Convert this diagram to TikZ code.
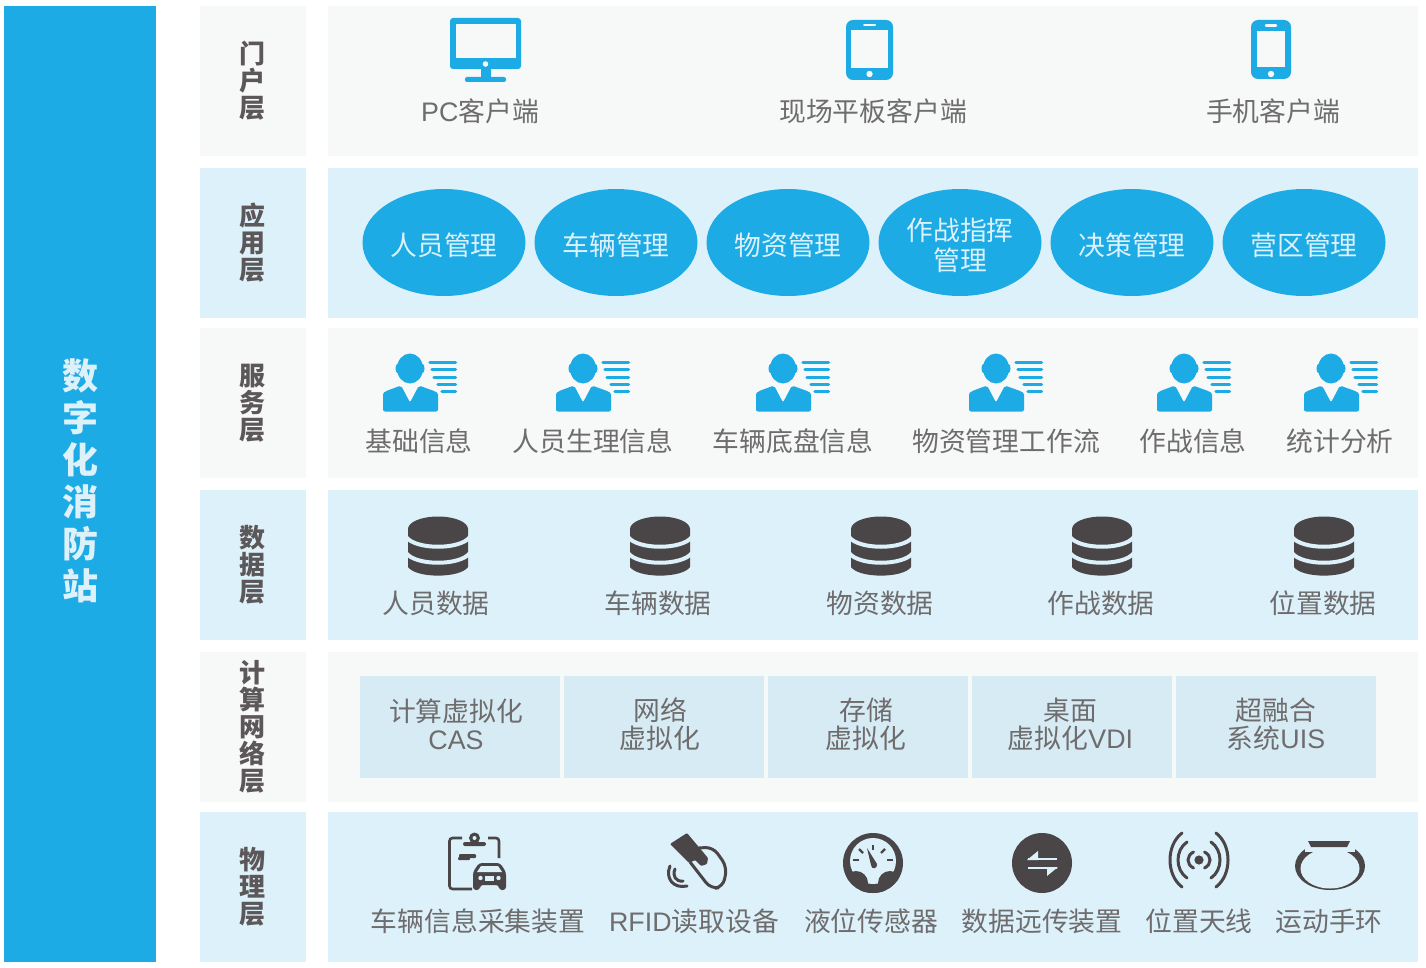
\documentclass[tikz,border=0pt]{standalone}
\usepackage{fontspec}
\setmainfont{Noto Sans CJK SC}
\newfontfamily\lat{Liberation Sans}
\usetikzlibrary{shapes.geometric}
\definecolor{sky}{HTML}{1CABE4}
\definecolor{pale}{HTML}{DDF1FB}
\definecolor{mist}{HTML}{F7F8F8}
\definecolor{cell}{HTML}{D7EBF5}
\definecolor{ink}{HTML}{4A4647}
\definecolor{txt}{HTML}{6E6C6C}
\tikzset{
  band/.style={draw=none,inner sep=0pt,minimum height=150pt,anchor=north west},
  tagbox/.style={band,minimum width=106pt},
  taglbl/.style={inner sep=0pt,font=\fontsize{26}{27}\selectfont\bfseries,text=ink!90,align=center},
  mainbox/.style={band,minimum width=1090pt},
  lbl/.style={inner sep=0pt,text=txt,font=\fontsize{26.8}{28}\selectfont,align=center},
  oval/.style={ellipse,fill=sky,minimum width=163pt,minimum height=107pt,inner sep=0pt},
  ovallbl/.style={inner sep=0pt,text=pale,font=\fontsize{26.8}{30}\selectfont,align=center},
  cellbox/.style={fill=cell,minimum width=200pt,minimum height=102pt,inner sep=0pt,anchor=north west},
  person/.pic={
    \fill[sky] (0,0) ellipse [x radius=13pt,y radius=15pt];
    \fill[sky] (-12.5,0) ellipse [x radius=2pt,y radius=4.5pt];
    \fill[sky] (12.5,0) ellipse [x radius=2pt,y radius=4.5pt];
    \fill[sky,rounded corners=2pt] (-27,43) -- (-27,28) .. controls (-27,23) and (-22,22) .. (-9,17) -- (0,34) -- (9,17) .. controls (22,22) and (28,23) .. (28,28) -- (28,43) -- cycle;
    \foreach \a/\b in {-6/20,1/22,9/24,16/28,23/32}{
      \draw[sky,line width=3.5pt,line cap=round] (\b,\a) -- (45.5,\a);
    }
  },
  dbase/.pic={
    \fill[ink] (-30,13) -- (-30,51) .. controls (-22,62.5) and (22,62.5) .. (30,51) -- (30,13) -- cycle;
    \fill[ink] (0,13) ellipse [x radius=30pt,y radius=12.5pt];
    \draw[pale,line width=4pt] (-32,21) .. controls (-22,34) and (22,34) .. (32,21);
    \draw[pale,line width=4pt] (-32,37) .. controls (-22,50) and (22,50) .. (32,37);
  },
}
\begin{document}
\begin{tikzpicture}[x=1pt,y=-1pt]
\useasboundingbox (0,0) rectangle (1426,968);
\fill[white] (0,0) rectangle (1426,968);
\node[fill=sky,minimum width=152pt,minimum height=956pt,inner sep=0pt,anchor=north west] (side) at (4,6) {};
\node[inner sep=0pt,text=pale,align=center,font=\fontsize{36}{42}\selectfont\bfseries] (sidelbl) at (80,481) {数\\字\\化\\消\\防\\站};

\node[tagbox,fill=mist] (t1) at (200,6) {};
\node[tagbox,fill=pale] (t2) at (200,168) {};
\node[tagbox,fill=mist] (t3) at (200,328) {};
\node[tagbox,fill=pale] (t4) at (200,490) {};
\node[tagbox,fill=mist] (t5) at (200,652) {};
\node[tagbox,fill=pale] (t6) at (200,812) {};
\node[taglbl] (tl1) at (252,81) {门\\户\\层};
\node[taglbl] (tl2) at (252,243) {应\\用\\层};
\node[taglbl] (tl3) at (252,403) {服\\务\\层};
\node[taglbl] (tl4) at (252,565) {数\\据\\层};
\node[taglbl] (tl5) at (252,727) {计\\算\\网\\络\\层};
\node[taglbl] (tl6) at (252,887) {物\\理\\层};

\node[mainbox,fill=mist] (m1) at (328,6) {};
\node[mainbox,fill=pale] (m2) at (328,168) {};
\node[mainbox,fill=mist] (m3) at (328,328) {};
\node[mainbox,fill=pale] (m4) at (328,490) {};
\node[mainbox,fill=mist] (m5) at (328,652) {};
\node[mainbox,fill=pale] (m6) at (328,812) {};

% portal icons
\fill[sky,rounded corners=3pt] (450,18) rectangle (521,69);
\fill[mist] (456,24) rectangle (516,58);
\fill[mist] (485.5,64) circle [radius=2.8pt];
\fill[sky] (481,69) rectangle (491,79);
\fill[sky,rounded corners=2pt] (465,77) rectangle (506,82);

\fill[sky,rounded corners=7pt] (846,20) rectangle (893,80);
\fill[mist] (851,30) rectangle (888,68);
\fill[mist] (869.5,74) circle [radius=3.2pt];
\draw[mist,line width=2pt,line cap=round] (864,25) -- (875,25);

\fill[sky,rounded corners=7pt] (1251,20) rectangle (1291,79);
\fill[mist] (1257,31) rectangle (1285,67);
\fill[mist] (1271,74) circle [radius=3.2pt];
\draw[mist,line width=2.5pt,line cap=round] (1266,25.5) -- (1276,25.5);

\node[lbl] (p1) at (480,111) {{\lat PC}客户端};
\node[lbl] (p2) at (873,111) {现场平板客户端};
\node[lbl] (p3) at (1273,111) {手机客户端};

% application layer
\node[oval] (a1) at (444,242.5) {};
\node[oval] (a2) at (616,242.5) {};
\node[oval] (a3) at (788,242.5) {};
\node[oval] (a4) at (960,242.5) {};
\node[oval] (a5) at (1132,242.5) {};
\node[oval] (a6) at (1304,242.5) {};
\node[ovallbl] (al1) at (444,245.5) {人员管理};
\node[ovallbl] (al2) at (616,245.5) {车辆管理};
\node[ovallbl] (al3) at (788,245.5) {物资管理};
\node[ovallbl] (al4) at (960,245) {作战指挥\\管理};
\node[ovallbl] (al5) at (1132,245.5) {决策管理};
\node[ovallbl] (al6) at (1304,245.5) {营区管理};

% service layer
\foreach \x in {410,583,783,996,1184,1331}{
  \pic at (\x,368.5) {person};
}
\node[lbl] (s1) at (419,441) {基础信息};
\node[lbl] (s2) at (593,441) {人员生理信息};
\node[lbl] (s3) at (793,441) {车辆底盘信息};
\node[lbl] (s4) at (1006,441) {物资管理工作流};
\node[lbl] (s5) at (1193,441) {作战信息};
\node[lbl] (s6) at (1340,441) {统计分析};

% data layer
\foreach \x in {438,660,881,1102,1324}{
  \pic at (\x,516) {dbase};
}
\node[lbl] (d1) at (436,603) {人员数据};
\node[lbl] (d2) at (658,603) {车辆数据};
\node[lbl] (d3) at (880,603) {物资数据};
\node[lbl] (d4) at (1101,603) {作战数据};
\node[lbl] (d5) at (1323,603) {位置数据};

% compute layer
\node[cellbox] (c1) at (360,676) {};
\node[cellbox] (c2) at (564,676) {};
\node[cellbox] (c3) at (768,676) {};
\node[cellbox] (c4) at (972,676) {};
\node[cellbox] (c5) at (1176,676) {};
\node[lbl] (cl1) at (456,724.5) {计算虚拟化\\{\lat CAS}};
\node[lbl] (cl2) at (660,724.5) {网络\\虚拟化};
\node[lbl] (cl3) at (866,724.5) {存储\\虚拟化};
\node[lbl] (cl4) at (1070.5,724.5) {桌面\\虚拟化{\lat VDI}};
\node[lbl] (cl5) at (1276,724.5) {超融合\\系统{\lat UIS}};

% physical: clipboard + car
\draw[ink,line width=2.6pt,rounded corners=3pt] (462,838) -- (449.5,838) -- (449.5,889) -- (472,889);
\draw[ink,line width=2.6pt,rounded corners=3pt] (488,838) -- (499,838) -- (499,858);
\fill[ink,rounded corners=2pt] (463,842) rectangle (486,846);
\fill[ink] (474.5,838) circle [radius=5.5pt];
\fill[pale] (474.5,838) circle [radius=2pt];
\fill[ink,rounded corners=1pt] (459,854) rectangle (476,858);
\fill[ink,rounded corners=1pt] (458,857) rectangle (470,860);
\fill[ink,rounded corners=3pt] (473,890) -- (473,872) -- (479,863) -- (500,863) -- (506,872) -- (506,890) -- (499,890) -- (499,885) -- (480,885) -- (480,890) -- cycle;
\fill[pale] (481,866) -- (498,866) -- (502,872) -- (477,872) -- cycle;
\fill[pale] (480.5,878) circle [radius=2.2pt];
\fill[pale] (498.5,878) circle [radius=2.2pt];
\fill[pale] (485,876) rectangle (494,881);

% physical: RFID hand and card
\draw[ink,line width=3pt,rounded corners=8pt] (699,848) -- (713,847) -- (727,867) -- (723,887) -- (711,889) -- (690,862);
\fill[ink,rounded corners=1pt] (670,844) -- (687,833) -- (708,858) -- (707,864) -- (701,866) -- (695,860) -- (689,863) -- cycle;
\draw[ink,line width=3pt,line cap=round] (675,869) .. controls (672,876) and (676,882) .. (683,881);
\draw[ink,line width=3pt,line cap=round] (670,866) .. controls (665,878) and (673,889) .. (687,886);

% physical: gauge
\fill[ink] (873,863) circle [radius=30pt];
\begin{scope}
  \clip (873,863) circle [radius=30pt];
  \fill[pale] (873,861) circle [radius=23pt];
  \fill[ink] (856,883) circle [radius=12pt];
  \fill[ink] (890,883) circle [radius=12pt];
  \fill[ink] (860,886) rectangle (886,895);
\end{scope}
\fill[ink] (867,848) -- (877,864) .. controls (878,869) and (871,870) .. (871,865) -- cycle;
\foreach \a/\b/\c/\d in {853/860/859/860,859/849/863/853,881/853/885/849,887/860/893/860,873/845/873/850}{
  \draw[ink,line width=2.2pt] (\a,\b) -- (\c,\d);
}

% physical: transfer
\fill[ink] (1042,863) circle [radius=30pt];
\draw[pale,line width=2.8pt] (1028,859) -- (1057,859);
\draw[pale,line width=2.8pt] (1028,868) -- (1057,868);
\fill[pale] (1027,860) -- (1038,851) -- (1038,860) -- cycle;
\fill[pale] (1058,867) -- (1047,876) -- (1047,867) -- cycle;

% physical: antenna
\fill[ink] (1199,860) circle [radius=4.6pt];
\foreach \m/\e/\h in {29/17/27,21/12/18,11/5.5/8}{
  \pgfmathsetmacro{\cc}{(\m-0.25*\e)/0.75}
  \pgfmathsetmacro{\hh}{0.55*\h}
  \draw[ink,line width=3pt,line cap=round] ({1199+\e},{860-\h}) .. controls ({1199+\cc},{860-\hh}) and ({1199+\cc},{860+\hh}) .. ({1199+\e},{860+\h});
  \draw[ink,line width=3pt,line cap=round] ({1199-\e},{860-\h}) .. controls ({1199-\cc},{860-\hh}) and ({1199-\cc},{860+\hh}) .. ({1199-\e},{860+\h});
}

% physical: band
\fill[ink] (1330,866) ellipse [x radius=35pt,y radius=24pt];
\fill[pale] (1330,868.5) ellipse [x radius=29.5pt,y radius=20pt];
\fill[pale] (1305,838) rectangle (1355,852);
\fill[ink] (1308,841) -- (1350,841) -- (1347,847) -- (1311,847) -- cycle;

\node[lbl] (f1) at (478,921) {车辆信息采集装置};
\node[lbl] (f2) at (694,921) {{\lat RFID}读取设备};
\node[lbl] (f3) at (871,921) {液位传感器};
\node[lbl] (f4) at (1042,921) {数据远传装置};
\node[lbl] (f5) at (1199,921) {位置天线};
\node[lbl] (f6) at (1329,921) {运动手环};
\end{tikzpicture}
\end{document}
